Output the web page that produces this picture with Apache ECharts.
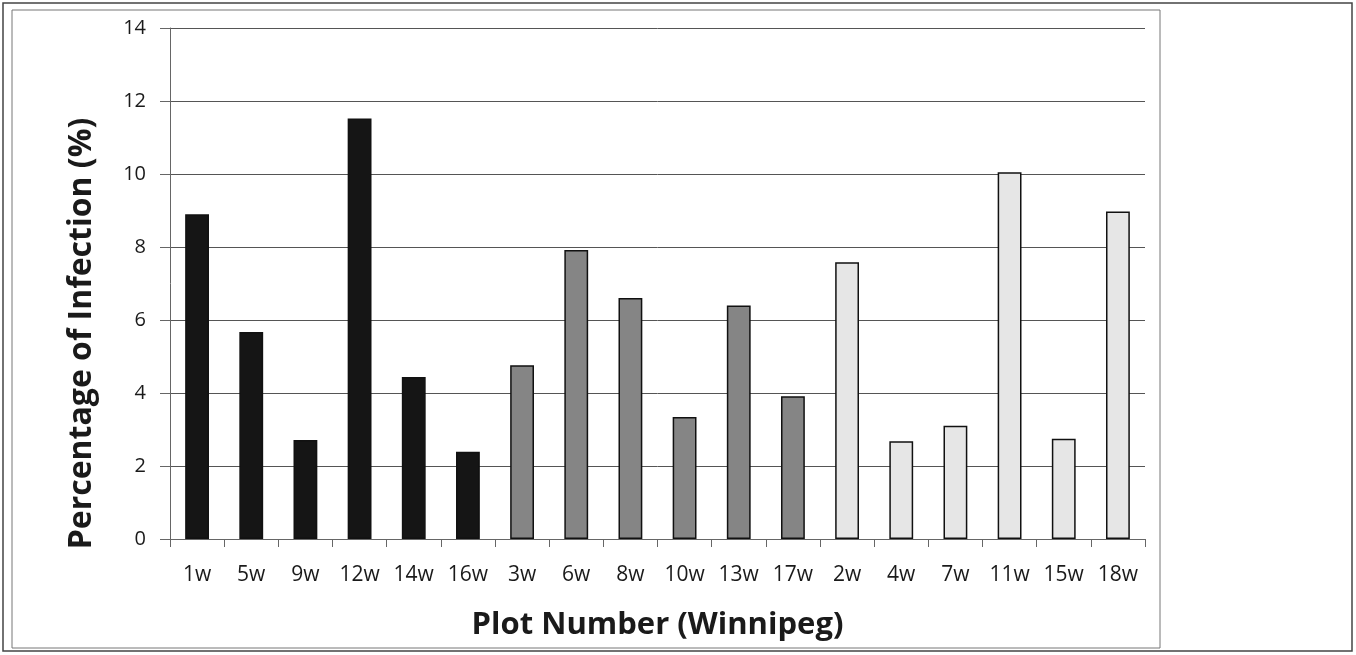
<!DOCTYPE html>
<html>
<head>
<meta charset="utf-8">
<script src="https://cdn.jsdelivr.net/npm/echarts@6/dist/echarts.min.js"></script>
<style>
html,body{margin:0;padding:0;background:#fff;}
#chart{width:1356px;height:655px;}
</style>
</head>
<body>
<div id="chart"></div>
<script>
const categories = ['1w','5w','9w','12w','14w','16w','3w','6w','8w','10w','13w','17w','2w','4w','7w','11w','15w','18w'];
const values = [8.90, 5.67, 2.71, 11.52, 4.44, 2.39, 4.76, 7.92, 6.60, 3.34, 6.40, 3.91, 7.58, 2.68, 3.10, 10.05, 2.75, 8.97];
const groups = [0,0,0,0,0,0,1,1,1,1,1,1,2,2,2,2,2,2];
const yTicks = [0, 2, 4, 6, 8, 10, 12, 14];

const groupFill = ['#151515', '#858585', '#e6e6e6'];
const FONT = '"Open Sans", "DejaVu Sans", sans-serif';

const chart = echarts.init(document.getElementById('chart'), null, {renderer: 'canvas'});
chart.setOption({
  backgroundColor: '#fff',
  animation: false,
  grid: {left: 170, right: 211, top: 28, bottom: 116},
  graphic: [
    {type: 'rect', shape: {x: 3, y: 3, width: 1349, height: 648}, style: {fill: 'none', stroke: '#444', lineWidth: 1.5}, silent: true},
    {type: 'rect', shape: {x: 12, y: 10, width: 1148, height: 638}, style: {fill: 'none', stroke: '#777', lineWidth: 1}, silent: true}
  ],
  xAxis: {
    type: 'category',
    data: categories,
    name: 'Plot Number (Winnipeg)',
    nameLocation: 'middle',
    nameGap: 71,
    nameTextStyle: {fontFamily: FONT, fontSize: 31, fontWeight: 'bold', color: '#1a1a1a'},
    axisLine: {show: true, lineStyle: {color: '#666', width: 1}},
    axisTick: {show: true, length: 8, lineStyle: {color: '#666'}},
    axisLabel: {fontFamily: FONT, fontSize: 21, color: '#1a1a1a', margin: 26, interval: 0}
  },
  yAxis: {
    type: 'value',
    min: yTicks[0],
    max: yTicks[yTicks.length - 1],
    interval: 2,
    name: 'Percentage of Infection (%)',
    nameLocation: 'middle',
    nameGap: 72,
    nameTextStyle: {fontFamily: FONT, fontSize: 32, fontWeight: 'bold', color: '#1a1a1a', padding: [0, 100, 0, 0]},
    axisLine: {show: true, lineStyle: {color: '#666', width: 1}},
    axisTick: {show: true, length: 10, lineStyle: {color: '#666'}},
    axisLabel: {fontFamily: FONT, fontSize: 20, color: '#1a1a1a', margin: 24},
    splitLine: {show: true, lineStyle: {color: '#555', width: 1}}
  },
  series: [{
    type: 'bar',
    barWidth: '44%',
    data: values.map((v, i) => ({
      value: v,
      itemStyle: {color: groupFill[groups[i]], borderColor: '#111', borderWidth: 1.5}
    }))
  }]
});
</script>
</body>
</html>
